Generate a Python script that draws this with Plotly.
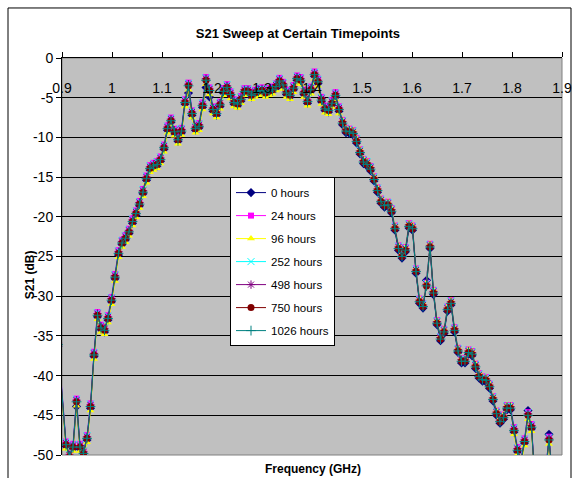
import plotly.graph_objects as go

freq_ghz = [
    0.892,
    0.908, 0.915, 0.922, 0.929, 0.936, 0.943, 0.950, 0.957, 0.964, 0.971,
    0.978, 0.985, 0.992, 0.999, 1.006, 1.013, 1.020, 1.027, 1.034, 1.041,
    1.048, 1.055, 1.062, 1.069, 1.076, 1.083, 1.090, 1.097, 1.104, 1.111,
    1.118, 1.125, 1.132, 1.139, 1.146, 1.153, 1.160, 1.167, 1.174, 1.181,
    1.188, 1.195, 1.202, 1.209, 1.216, 1.223, 1.230, 1.237, 1.244, 1.251,
    1.258, 1.265, 1.272, 1.279, 1.286, 1.293, 1.300, 1.307, 1.314, 1.321,
    1.328, 1.335, 1.342, 1.349, 1.356, 1.363, 1.370, 1.377, 1.384, 1.391,
    1.398, 1.405, 1.412, 1.419, 1.426, 1.433, 1.440, 1.447, 1.454, 1.461,
    1.468, 1.475, 1.482, 1.489, 1.496, 1.503, 1.510, 1.517, 1.524, 1.531,
    1.538, 1.545, 1.552, 1.559, 1.566, 1.573, 1.580, 1.587, 1.594, 1.601,
    1.608, 1.615, 1.622, 1.629, 1.636, 1.643, 1.650, 1.657, 1.664, 1.671,
    1.678, 1.685, 1.692, 1.699, 1.706, 1.713, 1.720, 1.727, 1.734, 1.741,
    1.748, 1.755, 1.762, 1.769, 1.776, 1.783, 1.790, 1.797, 1.804, 1.811,
    1.818, 1.825, 1.832, 1.839, 1.846, 1.853, 1.860, 1.867, 1.874, 1.881,
]

s21_0h = [
    -36.3,
    -48.9, -50.4, -49.2, -43.9, -49.2, -50.1, -48.1, -44.1, -37.6, -32.6,
    -34.2, -34.5, -33.0, -30.7, -27.8, -24.8, -23.5, -22.9, -22.1, -20.8,
    -19.8, -18.6, -17.1, -15.4, -14.1, -13.8, -13.6, -13.0, -11.5, -9.1,
    -8.1, -9.5, -10.5, -9.4, -5.8, -4.4, -7.2, -9.1, -8.8, -6.2,
    -3.7, -4.9, -6.7, -7.2, -6.1, -4.4, -3.9, -4.8, -5.8, -6.0,
    -5.4, -4.4, -4.4, -4.9, -4.6, -4.4, -4.3, -4.6, -4.4, -4.2,
    -3.8, -3.1, -3.6, -4.6, -4.9, -4.0, -2.8, -3.0, -4.6, -5.7,
    -4.2, -2.3, -3.2, -5.5, -6.6, -6.8, -5.9, -4.9, -6.7, -8.4,
    -9.4, -9.5, -9.7, -10.7, -12.1, -13.3, -13.6, -14.2, -15.5, -16.9,
    -18.3, -18.8, -18.7, -19.5, -21.7, -24.2, -25.2, -24.4, -21.4, -21.7,
    -27.1, -30.9, -31.5, -28.0, -24.0, -29.8, -33.6, -35.6, -34.7, -31.9,
    -31.1, -34.5, -37.1, -38.4, -38.4, -37.3, -37.5, -39.1, -40.3, -40.7,
    -40.8, -41.6, -43.2, -45.0, -46.0, -45.5, -44.3, -44.3, -47.1, -49.6,
    -51.0, -48.5, -44.4, -46.7, -53.7, -55.2, -54.2, -52.7, -47.4, -53.2,
]

s21_24h = [
    -35.7,
    -48.3, -49.8, -48.6, -42.9, -48.6, -49.4, -47.5, -43.5, -37.0, -32.0,
    -33.6, -33.9, -32.4, -30.1, -27.2, -24.2, -22.9, -22.3, -21.5, -20.2,
    -19.2, -18.0, -16.5, -14.8, -13.5, -13.2, -13.0, -12.4, -10.9, -8.5,
    -7.5, -8.9, -9.9, -8.8, -5.2, -3.1, -6.6, -8.5, -8.2, -5.6,
    -2.4, -3.7, -6.1, -6.6, -5.5, -3.8, -3.3, -4.2, -5.2, -5.4,
    -4.8, -3.8, -3.8, -4.3, -4.0, -3.8, -3.7, -4.0, -3.8, -3.6,
    -3.2, -2.5, -3.0, -4.0, -4.3, -3.4, -2.2, -2.4, -4.0, -5.1,
    -3.6, -1.7, -2.6, -4.9, -6.0, -6.2, -5.3, -4.3, -6.1, -7.8,
    -8.8, -8.9, -9.1, -10.1, -11.5, -12.7, -13.0, -13.6, -14.9, -16.3,
    -17.7, -18.2, -18.1, -18.9, -21.1, -23.6, -24.6, -23.8, -20.8, -21.1,
    -26.5, -30.3, -30.9, -28.3, -23.4, -29.2, -33.0, -35.0, -34.1, -31.3,
    -30.5, -33.9, -36.5, -37.8, -37.8, -36.7, -36.9, -38.5, -39.7, -40.1,
    -40.2, -41.0, -42.6, -44.4, -45.4, -44.9, -43.7, -43.7, -46.5, -49.0,
    -50.4, -47.9, -44.6, -46.1, -53.1, -54.6, -53.6, -52.1, -47.7, -52.6,
]

s21_96h = [
    -36.6,
    -49.2, -50.7, -49.5, -43.8, -49.5, -50.3, -48.4, -44.4, -37.9, -32.9,
    -34.5, -34.8, -33.3, -31.0, -28.1, -25.1, -23.8, -23.2, -22.4, -21.1,
    -20.1, -18.9, -17.4, -15.7, -14.4, -14.1, -13.9, -13.3, -11.8, -9.4,
    -8.4, -9.8, -10.8, -9.7, -6.1, -4.0, -7.5, -9.4, -9.1, -6.5,
    -3.3, -4.6, -7.0, -7.5, -6.4, -4.7, -4.2, -5.1, -6.1, -6.3,
    -5.7, -4.7, -4.7, -5.2, -4.9, -4.7, -4.6, -4.9, -4.7, -4.5,
    -4.1, -3.4, -3.9, -4.9, -5.2, -4.3, -3.1, -3.3, -4.9, -6.0,
    -4.5, -2.6, -3.5, -5.8, -6.9, -7.1, -6.2, -5.2, -7.0, -7.8,
    -8.8, -8.9, -9.1, -10.1, -11.5, -12.7, -13.0, -13.6, -14.9, -16.3,
    -17.7, -18.2, -18.1, -18.9, -21.1, -23.6, -24.6, -23.8, -20.8, -21.1,
    -26.5, -30.3, -30.9, -28.3, -23.4, -29.2, -33.0, -35.0, -34.1, -31.3,
    -30.5, -33.9, -36.5, -37.8, -37.8, -36.7, -36.9, -38.5, -39.7, -40.1,
    -40.2, -41.0, -42.6, -44.4, -45.4, -44.9, -43.7, -43.7, -47.4, -49.9,
    -51.3, -48.8, -45.5, -47.0, -54.0, -55.5, -54.5, -53.0, -48.6, -53.5,
]

s21_252h = [
    -35.8,
    -48.4, -49.9, -48.7, -43.0, -48.7, -49.5, -47.6, -43.6, -37.1, -32.1,
    -33.7, -34.0, -32.5, -30.2, -27.3, -24.3, -23.0, -22.4, -21.6, -20.3,
    -19.3, -18.1, -16.6, -14.9, -13.6, -13.3, -13.1, -12.5, -11.0, -8.6,
    -7.6, -9.0, -10.0, -8.9, -5.3, -3.2, -6.7, -8.6, -8.3, -5.7,
    -2.5, -3.8, -6.2, -6.7, -5.6, -3.9, -3.4, -4.3, -5.3, -5.5,
    -4.9, -3.9, -3.9, -4.4, -4.1, -3.9, -3.8, -4.1, -3.9, -3.7,
    -3.3, -2.6, -3.1, -4.1, -4.4, -3.5, -2.3, -2.5, -4.1, -5.2,
    -3.7, -1.8, -2.7, -5.0, -6.1, -6.3, -5.4, -4.4, -6.2, -7.9,
    -8.9, -9.0, -9.2, -10.2, -11.6, -12.8, -13.1, -13.7, -15.0, -16.4,
    -17.8, -18.3, -18.2, -19.0, -21.2, -23.7, -24.7, -23.9, -20.9, -21.2,
    -26.6, -30.4, -31.0, -28.4, -23.5, -29.3, -33.1, -35.1, -34.2, -31.4,
    -30.6, -34.0, -36.6, -37.9, -37.9, -36.8, -37.0, -38.6, -39.8, -40.2,
    -40.3, -41.1, -42.7, -44.5, -45.5, -45.0, -43.8, -43.8, -46.6, -49.1,
    -50.5, -48.0, -44.7, -46.2, -53.2, -54.7, -53.7, -52.2, -47.8, -52.7,
]

s21_498h = [
    -35.9,
    -48.5, -50.0, -48.8, -43.1, -48.8, -49.6, -47.7, -43.7, -37.2, -32.2,
    -33.8, -34.1, -32.6, -30.3, -27.4, -24.4, -23.1, -22.5, -21.7, -20.4,
    -19.4, -18.2, -16.7, -15.0, -13.7, -13.4, -13.2, -12.6, -11.1, -8.7,
    -7.7, -9.1, -10.1, -9.0, -5.4, -3.3, -6.8, -8.7, -8.4, -5.8,
    -2.6, -3.9, -6.3, -6.8, -5.7, -4.0, -3.5, -4.4, -5.4, -5.6,
    -5.0, -4.0, -4.0, -4.5, -4.2, -4.0, -3.9, -4.2, -4.0, -3.8,
    -3.4, -2.7, -3.2, -4.2, -4.5, -3.6, -2.4, -2.6, -4.2, -5.3,
    -3.8, -1.9, -2.8, -5.1, -6.2, -6.4, -5.5, -4.5, -6.3, -8.0,
    -9.0, -9.1, -9.3, -10.3, -11.7, -12.9, -13.2, -13.8, -15.1, -16.5,
    -17.9, -18.4, -18.3, -19.1, -21.3, -23.8, -24.8, -24.0, -21.0, -21.3,
    -26.7, -30.5, -31.1, -28.5, -23.6, -29.4, -33.2, -35.2, -34.3, -31.5,
    -30.7, -34.1, -36.7, -38.0, -38.0, -36.9, -37.1, -38.7, -39.9, -40.3,
    -40.4, -41.2, -42.8, -44.6, -45.6, -45.1, -43.9, -43.9, -46.7, -49.2,
    -50.6, -48.1, -44.8, -46.3, -53.3, -54.8, -53.8, -52.3, -47.9, -52.8,
]

s21_750h = [
    -36.1,
    -48.7, -50.2, -49.0, -43.3, -49.0, -49.8, -47.9, -43.9, -37.4, -32.4,
    -34.0, -34.3, -32.8, -30.5, -27.6, -24.6, -23.3, -22.7, -21.9, -20.6,
    -19.6, -18.4, -16.9, -15.2, -13.9, -13.6, -13.4, -12.8, -11.3, -8.9,
    -7.9, -9.3, -10.3, -9.2, -5.6, -3.5, -7.0, -8.9, -8.6, -6.0,
    -2.8, -4.1, -6.5, -7.0, -5.9, -4.2, -3.7, -4.6, -5.6, -5.8,
    -5.2, -4.2, -4.2, -4.7, -4.4, -4.2, -4.1, -4.4, -4.2, -4.0,
    -3.6, -2.9, -3.4, -4.4, -4.7, -3.8, -2.6, -2.8, -4.4, -5.5,
    -4.0, -2.1, -3.0, -5.3, -6.4, -6.6, -5.7, -4.7, -6.5, -8.2,
    -9.2, -9.3, -9.5, -10.5, -11.9, -13.1, -13.4, -14.0, -15.3, -16.7,
    -18.1, -18.6, -18.5, -19.3, -21.5, -24.0, -25.0, -24.2, -21.2, -21.5,
    -26.9, -30.7, -31.3, -28.7, -23.8, -29.6, -33.4, -35.4, -34.5, -31.7,
    -30.9, -34.3, -36.9, -38.2, -38.2, -37.1, -37.3, -38.9, -40.1, -40.5,
    -40.6, -41.4, -43.0, -44.8, -45.8, -45.3, -44.1, -44.1, -46.9, -49.4,
    -50.8, -48.3, -45.0, -46.5, -53.5, -55.0, -54.0, -52.5, -48.1, -53.0,
]

s21_1026h = [
    -36.1,
    -48.7, -50.2, -49.0, -43.3, -49.0, -49.8, -47.9, -43.9, -37.4, -32.4,
    -34.0, -34.3, -32.8, -30.5, -27.6, -24.6, -23.3, -22.7, -21.9, -20.6,
    -19.6, -18.4, -16.9, -15.2, -13.9, -13.6, -13.4, -12.8, -11.3, -8.9,
    -7.9, -9.3, -10.3, -9.2, -5.6, -3.5, -7.0, -8.9, -8.6, -6.0,
    -2.8, -4.1, -6.5, -7.0, -5.9, -4.2, -3.7, -4.6, -5.6, -5.8,
    -5.2, -4.2, -4.2, -4.7, -4.4, -4.2, -4.1, -4.4, -4.2, -4.0,
    -3.6, -2.9, -3.4, -4.4, -4.7, -3.8, -2.6, -2.8, -4.4, -5.5,
    -4.0, -2.1, -3.0, -5.3, -6.4, -6.6, -5.7, -4.7, -6.5, -8.2,
    -9.2, -9.3, -9.5, -10.5, -11.9, -13.1, -13.4, -14.0, -15.3, -16.7,
    -18.1, -18.6, -18.5, -19.3, -21.5, -24.0, -25.0, -24.2, -21.2, -21.5,
    -26.9, -30.7, -31.3, -28.7, -23.8, -29.6, -33.4, -35.4, -34.5, -31.7,
    -30.9, -34.3, -36.9, -38.2, -38.2, -37.1, -37.3, -38.9, -40.1, -40.5,
    -40.6, -41.4, -43.0, -44.8, -45.8, -45.3, -44.1, -44.1, -46.9, -49.4,
    -50.8, -48.3, -45.0, -46.5, -53.5, -55.0, -54.0, -52.5, -48.1, -53.0,
]

series_names = ["0 hours", "24 hours", "96 hours", "252 hours", "498 hours", "750 hours", "1026 hours"]
series_values = [s21_0h, s21_24h, s21_96h, s21_252h, s21_498h, s21_750h, s21_1026h]

x_tick_vals = [0.9, 1.0, 1.1, 1.2, 1.3, 1.4, 1.5, 1.6, 1.7, 1.8, 1.9]
x_tick_text = ["0.9", "1", "1.1", "1.2", "1.3", "1.4", "1.5", "1.6", "1.7", "1.8", "1.9"]
y_tick_vals = [0, -5, -10, -15, -20, -25, -30, -35, -40, -45, -50]
y_tick_text = ["0", "-5", "-10", "-15", "-20", "-25", "-30", "-35", "-40", "-45", "-50"]

for s in series_values:
    assert len(s) == len(freq_ghz)

styles = [
    dict(color="#000080", symbol="diamond", size=7, open=False),
    dict(color="#FF00FF", symbol="square", size=6, open=False),
    dict(color="#FFFF00", symbol="triangle-up", size=7, open=False),
    dict(color="#00FFFF", symbol="x-thin-open", size=7, open=True),
    dict(color="#800080", symbol="asterisk-open", size=7, open=True),
    dict(color="#800000", symbol="circle", size=7, open=False),
    dict(color="#008080", symbol="cross-thin-open", size=7, open=True),
]

FONT = "Liberation Sans, Arial, sans-serif"

fig = go.Figure()
for name, vals, st in zip(series_names, series_values, styles):
    if st["open"]:
        marker = dict(symbol=st["symbol"], size=st["size"], color=st["color"],
                      line=dict(color=st["color"], width=1))
    else:
        marker = dict(symbol=st["symbol"], size=st["size"], color=st["color"],
                      line=dict(width=0))
    fig.add_trace(go.Scatter(
        x=freq_ghz, y=vals, name=name, mode="lines+markers",
        line=dict(color=st["color"], width=1),
        marker=marker, legendgroup=name,
    ))

fig.update_layout(
    width=575, height=478,
    margin=dict(l=62, r=13, t=58, b=23),
    paper_bgcolor="white",
    plot_bgcolor="#C0C0C0",
    font=dict(family=FONT, color="black", size=14),
    title=dict(text="<b>S21 Sweep at Certain Timepoints</b>", x=0.518, xanchor="center",
               y=1 - 33 / 478, yanchor="middle", font=dict(family=FONT, size=13, color="black")),
    showlegend=True,
    legend=dict(x=(230 - 62) / 500, y=0.700, xanchor="left", yanchor="top",
                bgcolor="white", bordercolor="black", borderwidth=1,
                font=dict(family=FONT, size=11.5, color="black"),
                traceorder="grouped", tracegroupgap=4),
    xaxis=dict(range=[0.9, 1.9], side="top", tickvals=x_tick_vals, ticktext=x_tick_text,
               ticks="outside", ticklen=5, tickcolor="black", tickwidth=1,
               ticklabelposition="inside", ticklabeloverflow="allow", ticklabelstandoff=25,
               showline=True, linecolor="black", linewidth=1, showgrid=False, zeroline=False,
               automargin=False,
               tickfont=dict(family=FONT, size=14, color="black")),
    yaxis=dict(range=[-50, 0], tickvals=y_tick_vals, ticktext=y_tick_text,
               ticks="outside", ticklen=5, tickcolor="black", tickwidth=1,
               showline=True, linecolor="black", linewidth=1,
               showgrid=True, gridcolor="black", gridwidth=1, zeroline=False,
               automargin=False,
               tickfont=dict(family=FONT, size=14, color="black")),
    shapes=[
        dict(type="rect", xref="paper", yref="paper", x0=0, x1=1, y0=0, y1=1,
             line=dict(color="#808080", width=1), layer="below"),
        dict(type="rect", xref="paper", yref="paper", x0=-0.108, x1=1.018, y0=-0.09, y1=1.126,
             line=dict(color="black", width=1), fillcolor="rgba(0,0,0,0)", layer="above"),
    ],
    annotations=[
        dict(text="<b>Frequency (GHz)</b>", xref="paper", yref="paper", x=0.502, y=-0.035,
             xanchor="center", yanchor="middle", showarrow=False,
             font=dict(family=FONT, size=12, color="black")),
        dict(text="<b>S21 (dB)</b>", xref="paper", yref="paper", x=-0.064, y=0.453,
             xanchor="center", yanchor="middle", showarrow=False, textangle=-90,
             font=dict(family=FONT, size=12, color="black")),
    ],
)

fig.write_html("out.html")
